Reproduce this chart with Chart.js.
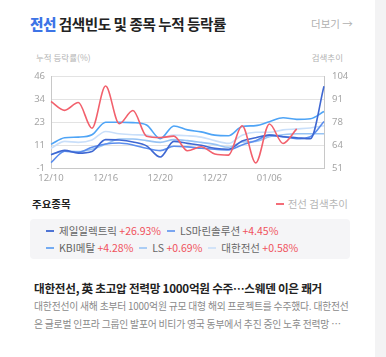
<!DOCTYPE html>
<html><head><meta charset="utf-8">
<script src="https://cdn.jsdelivr.net/npm/chart.js@4"></script>
<style>
html,body{margin:0;padding:0;background:#fff;}
body{width:386px;height:357px;position:relative;overflow:hidden;font-family:"Noto Sans CJK KR","Noto Sans",sans-serif;}
.abs{position:absolute;white-space:nowrap;}
#strip{left:375px;top:0;width:11px;height:357px;background:#f3f3f4;}
#title{left:30px;top:14px;font-size:14.6px;font-weight:700;color:#222;line-height:20px;letter-spacing:-0.45px;}
#title b{color:#3d74e6;}
#more{left:311px;top:17px;font-size:10.5px;color:#b0b0b0;line-height:14px;}
#ylab{left:36px;top:51px;font-size:8.5px;color:#b3b3b3;line-height:12px;}
#ylab2{right:43px;top:51px;font-size:8.5px;color:#b3b3b3;line-height:12px;}
#chartwrap{left:20px;top:63px;width:345px;height:125px;}
#sec{left:32px;top:197px;font-size:10.5px;font-weight:700;color:#222;line-height:14px;}
#trend{right:38px;top:197px;font-size:10.5px;color:#b5b5b5;line-height:14px;}
#trend i{display:inline-block;width:8px;height:2px;background:#f46d78;vertical-align:middle;margin-right:4px;margin-top:-2px;}
#box{left:30px;top:219px;width:320px;height:40px;background:#f5f5f7;border-radius:4px;}
.row{position:absolute;left:16px;font-size:10.5px;color:#666;line-height:14px;white-space:nowrap;}
.row span.it{margin-right:6px;}
.row i{display:inline-block;width:8px;height:2px;vertical-align:middle;margin-right:5px;margin-top:-2px;}
.row em{font-style:normal;color:#f0525c;}
#head{left:34px;top:280px;font-size:11.6px;font-weight:700;color:#222;line-height:16px;letter-spacing:-0.25px;}
#body{left:34px;top:298px;font-size:9.8px;color:#8a8a8a;line-height:17.5px;letter-spacing:-0.2px;}
</style></head>
<body>
<div id="strip" class="abs"></div>
<div id="title" class="abs"><b>전선</b> 검색빈도 및 종목 누적 등락률</div>
<div id="more" class="abs">더보기 →</div>
<div id="ylab" class="abs">누적 등락률(%)</div>
<div id="ylab2" class="abs">검색추이</div>
<div id="chartwrap" class="abs"><canvas id="c" width="345" height="125"></canvas></div>
<div id="sec" class="abs">주요종목</div>
<div id="trend" class="abs"><i></i>전선 검색추이</div>
<div id="box" class="abs">
  <div class="row" id="row1" style="top:5px"></div>
  <div class="row" id="row2" style="top:22px"></div>
</div>
<div id="head" class="abs">대한전선, 英 초고압 전력망 1000억원 수주…스웨덴 이은 쾌거</div>
<div id="body" class="abs">대한전선이 새해 초부터 1000억원 규모 대형 해외 프로젝트를 수주했다. 대한전선<br>은 글로벌 인프라 그룹인 발포어 비티가 영국 동부에서 추진 중인 노후 전력망 …</div>
<script>
const dates = ["12/10","12/11","12/12","12/13","12/16","12/17","12/18","12/19","12/20","12/23","12/24","12/26","12/27","12/30","01/02","01/03","01/06","01/07","01/08","01/09","01/10"];
const xTickDates = ["12/10","12/16","12/20","12/27","01/06"];
const leftTickLabels = [-1, 11, 23, 34, 46];
const rightTickLabels = [51, 64, 78, 91, 104];

const searchName = "전선 검색추이";
const searchTrend = [89.7,84.6,89.1,74.3,98.6,76.9,84.5,69.7,68.9,69.7,61.3,63.6,59.4,58.8,75.7,54.3,76.7,65.5,73.9,null,null];

const stockNames = ["제일일렉트릭","LS마린솔루션","KBI메탈","LS","대한전선"];
const stockReturns = ["+26.93%","+4.45%","+4.28%","+0.69%","+0.58%"];
const jeil   = [6.1,8.3,6.9,7.8,13.8,13.6,12.6,10.6,4.9,12.9,11.9,10.9,9.4,8.9,13.1,14.8,16.1,15.3,14.8,14.3,41.1];
const lsMarine = [2.0,7.9,7.4,9.9,11.6,12.1,11.1,9.4,8.2,10.4,10.1,9.4,8.9,8.6,11.1,13.3,16.1,15.3,14.3,15.3,23.1];
const kbi    = [11.4,14.8,15.1,16.3,22.7,22.7,22.5,21.3,14.3,20.8,18.8,17.8,16.1,15.8,20.5,21.0,23.0,25.0,24.2,24.5,28.2];
const ls     = [6.4,7.9,7.7,8.9,11.4,14.1,14.1,13.3,12.4,13.8,13.3,12.4,11.4,9.9,12.6,12.9,15.3,16.3,16.8,16.8,16.8];
const taihan = [9.4,12.9,12.4,13.6,18.0,16.8,16.3,16.1,14.8,16.1,15.8,15.1,13.3,11.9,16.1,17.6,17.6,18.8,19.3,19.8,20.9];
const stockSeries = [jeil, lsMarine, kbi, ls, taihan];
const stockColors = ["#3e67d2","#5b8ded","#4ea4f6","#97c3f4","#c9dffa"];
const legendColors = ["#4f74d4","#7aa5f0","#74abf2","#abcdf5","#d2e3f8"];
const searchColor = "#f2606c";

const rows = [[0,1],[2,3,4]];
rows.forEach((r,ri)=>{
  document.getElementById('row'+(ri+1)).innerHTML = r.map(k=>
    `<span class="it"><i style="background:${legendColors[k]}"></i>${stockNames[k]} <em>${stockReturns[k]}</em></span>`).join('');
});

const tickFont = {family:"'Noto Sans','Noto Sans CJK KR',sans-serif", size:9.5};
const datasets = [{
  label: searchName, data: searchTrend, yAxisID:'y1', borderColor: searchColor,
  borderWidth:1.6, pointRadius:0, cubicInterpolationMode:'monotone', spanGaps:false
}];
stockSeries.forEach((s,k)=>datasets.push({
  label: stockNames[k], data: s, yAxisID:'y', borderColor: stockColors[k],
  borderWidth:1.6, pointRadius:0, cubicInterpolationMode:'monotone'
}));

function setTicks(labels){
  return function(scale){
    const mn = scale.options.min, mx = scale.options.max, n = labels.length-1;
    scale.ticks = labels.map((l,i)=>({value: mn + i*(mx-mn)/n}));
  };
}

new Chart(document.getElementById('c'), {
  type:'line',
  data:{labels:dates, datasets},
  options:{
    responsive:false, animation:false, devicePixelRatio:1,
    layout:{padding:{top:3,bottom:0,left:0,right:0}},
    plugins:{legend:{display:false}, tooltip:{enabled:false}},
    scales:{
      x:{
        offset:false,
        grid:{display:false, drawTicks:false},
        border:{display:true, color:'#c8c8c8', width:1},
        ticks:{autoSkip:false, maxRotation:0, color:'#a5a5a5', font:tickFont, padding:4,
          callback:function(v,i){ const l=dates[i]; return xTickDates.includes(l)?l:''; }}
      },
      y:{
        position:'left', min:-1, max:46,
        afterBuildTicks: setTicks(leftTickLabels),
        afterFit: s=>{s.width=31;},
        grid:{color:'#e3e3e3', borderDash:[4,4], drawTicks:false, lineWidth:1},
        border:{display:true, color:'#c8c8c8', dash:[]},
        ticks:{color:'#a5a5a5', font:tickFont, padding:6, callback:(v,i)=>leftTickLabels[i]}
      },
      y1:{
        position:'right', min:51, max:104,
        afterBuildTicks: setTicks(rightTickLabels),
        afterFit: s=>{s.width=41;},
        grid:{display:false, drawTicks:false},
        border:{display:true, color:'#c8c8c8'},
        ticks:{color:'#a5a5a5', font:tickFont, padding:8, callback:(v,i)=>rightTickLabels[i]}
      }
    }
  }
});
</script>
</body></html>
